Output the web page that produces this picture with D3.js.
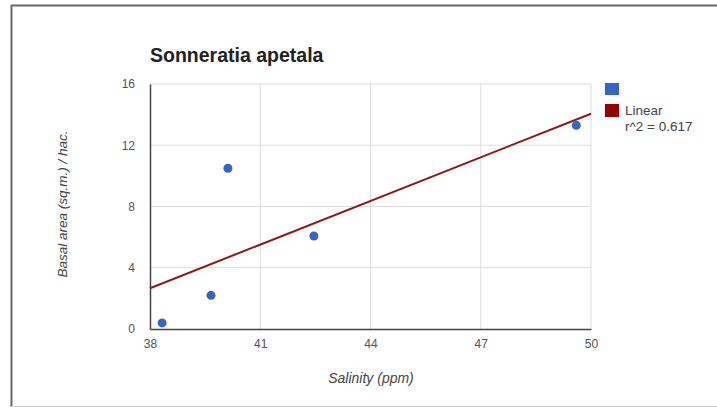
<!DOCTYPE html>
<html><head><meta charset="utf-8">
<script src="https://cdn.jsdelivr.net/npm/d3@7"></script>
<style>body{margin:0;background:#fff;}svg{display:block;font-family:Arial,"Liberation Sans",sans-serif;}</style>
</head><body><svg id="c" width="717" height="407"></svg>
<script>
const salinity = [38.33, 39.66, 40.12, 42.46, 49.6];
const basalArea = [0.4, 2.2, 10.5, 6.07, 13.3];
const xTicks = [38, 41, 44, 47, 50];
const yTicks = [0, 4, 8, 12, 16];
const title = "Sonneratia apetala";
const xLabel = "Salinity (ppm)";
const yLabel = "Basal area (sq.m.) / hac.";
const legendLabels = ["", "Linear", "r^2 = 0.617"];

const svg = d3.select("#c");
// outer frame
svg.append("rect").attr("x",0).attr("y",0).attr("width",717).attr("height",407).attr("fill","#fff");
svg.append("line").attr("x1",11.5).attr("x2",11.5).attr("y1",5).attr("y2",407).attr("stroke","#666").attr("stroke-width",2);
svg.append("line").attr("x1",11).attr("x2",717).attr("y1",5.5).attr("y2",5.5).attr("stroke","#666").attr("stroke-width",2);
svg.append("line").attr("x1",11).attr("x2",717).attr("y1",406.5).attr("y2",406.5).attr("stroke","#ccc").attr("stroke-width",1);

const L=150, R=591, T=84, B=329;
const x = d3.scaleLinear().domain([38,50]).range([L,R]);
const y = d3.scaleLinear().domain([0,16]).range([B,T]);

// grid
svg.append("g").selectAll("line").data(xTicks.slice(1)).join("line")
  .attr("x1",d=>x(d)).attr("x2",d=>x(d)).attr("y1",T).attr("y2",B)
  .attr("stroke","#ddd").attr("stroke-width",1);
svg.append("g").selectAll("line").data(yTicks.slice(1)).join("line")
  .attr("x1",L).attr("x2",R).attr("y1",d=>y(d)).attr("y2",d=>y(d))
  .attr("stroke","#ddd").attr("stroke-width",1);

// axes
const xa = svg.append("g").attr("transform",`translate(0,${B})`)
  .call(d3.axisBottom(x).tickValues(xTicks).tickSize(0).tickPadding(10));
xa.select(".domain").attr("stroke","#444").attr("stroke-width",1.5);
xa.selectAll("text").attr("fill","#555").attr("font-size",12).attr("font-family","Arial");
const ya = svg.append("g").attr("transform",`translate(${L},0)`)
  .call(d3.axisLeft(y).tickValues(yTicks).tickSize(0).tickPadding(15));
ya.select(".domain").attr("stroke","#444").attr("stroke-width",1.5);
ya.selectAll("text").attr("fill","#555").attr("font-size",12).attr("font-family","Arial");

// trendline (least squares from data)
const mx=d3.mean(salinity), my=d3.mean(basalArea);
const sxy=d3.sum(salinity,(v,i)=>(v-mx)*(basalArea[i]-my));
const sxx=d3.sum(salinity,v=>(v-mx)*(v-mx));
const slope=sxy/sxx, icpt=my-slope*mx;
svg.append("line").attr("x1",x(38)).attr("y1",y(icpt+slope*38))
  .attr("x2",x(50)).attr("y2",y(icpt+slope*50))
  .attr("stroke","#8b1a1a").attr("stroke-width",2);

// points
svg.append("g").selectAll("circle").data(salinity).join("circle")
  .attr("cx",d=>x(d)).attr("cy",(d,i)=>y(basalArea[i])).attr("r",4.5)
  .attr("fill","#3366cc");

// title
svg.append("text").attr("x",150).attr("y",62).attr("font-size",19.5).attr("font-weight","bold")
  .attr("fill","#222").text(title);

// axis labels
svg.append("text").attr("x",371).attr("y",383).attr("text-anchor","middle")
  .attr("font-size",14).attr("font-style","italic").attr("fill","#444").text(xLabel);
svg.append("text").attr("transform","translate(67,204) rotate(-90)").attr("text-anchor","middle")
  .attr("font-size",13.5).attr("font-style","italic").attr("fill","#444").text(yLabel);

// legend
svg.append("rect").attr("x",605).attr("y",83).attr("width",14).attr("height",12).attr("fill","#3366cc");
svg.append("rect").attr("x",605).attr("y",104).attr("width",14).attr("height",13).attr("fill","#990000");
svg.append("text").attr("x",625).attr("y",115).attr("font-size",13.5).attr("fill","#444").text(legendLabels[1]);
svg.append("text").attr("x",625).attr("y",131).attr("font-size",13.5).attr("fill","#444").text(legendLabels[2]);
</script></body></html>
